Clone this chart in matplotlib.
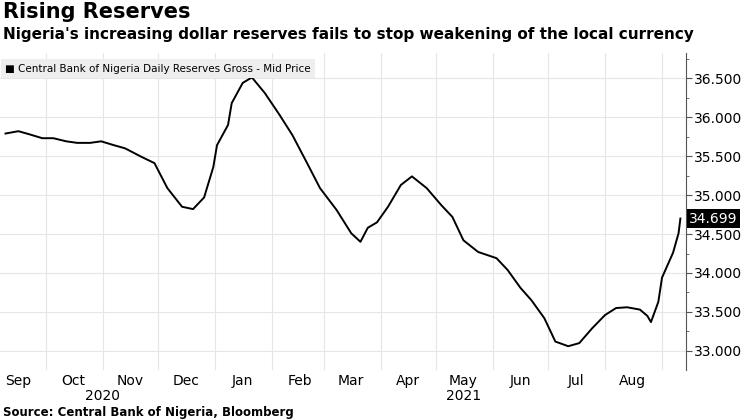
import pandas as pd
import matplotlib.pyplot as plt
import matplotlib.dates as mdates

# Reservas brutas diarias (bilhoes de USD)
dates = ['2020-09-09', '2020-09-16', '2020-09-22', '2020-09-29', '2020-10-05', '2020-10-12',
         '2020-10-18', '2020-10-25', '2020-10-31', '2020-11-07', '2020-11-13', '2020-11-22',
         '2020-11-29', '2020-12-06', '2020-12-14', '2020-12-20', '2020-12-26', '2020-12-31',
         '2021-01-02', '2021-01-08', '2021-01-10', '2021-01-16', '2021-01-21', '2021-01-28',
         '2021-02-05', '2021-02-12', '2021-02-20', '2021-02-27', '2021-03-08', '2021-03-16',
         '2021-03-21', '2021-03-25', '2021-03-30', '2021-04-05', '2021-04-12', '2021-04-18',
         '2021-04-26', '2021-05-04', '2021-05-10', '2021-05-16', '2021-05-24', '2021-06-03',
         '2021-06-09', '2021-06-16', '2021-06-22', '2021-06-29', '2021-07-05', '2021-07-12',
         '2021-07-18', '2021-07-25', '2021-08-01', '2021-08-07', '2021-08-13', '2021-08-20',
         '2021-08-24', '2021-08-26', '2021-08-30', '2021-09-01', '2021-09-07', '2021-09-10',
         '2021-09-11']
reserves = [35.79, 35.82, 35.78, 35.73, 35.73, 35.69,
            35.67, 35.67, 35.69, 35.64, 35.60, 35.49,
            35.41, 35.09, 34.85, 34.82, 34.97, 35.36,
            35.64, 35.90, 36.18, 36.44, 36.51, 36.31,
            36.03, 35.77, 35.41, 35.09, 34.81, 34.51,
            34.40, 34.58, 34.65, 34.85, 35.13, 35.24,
            35.09, 34.87, 34.72, 34.42, 34.27, 34.19,
            34.04, 33.81, 33.65, 33.42, 33.12, 33.06,
            33.10, 33.29, 33.46, 33.55, 33.56, 33.53,
            33.45, 33.37, 33.63, 33.94, 34.26, 34.51,
            34.699]
yticks = [33.0, 33.5, 34.0, 34.5, 35.0, 35.5, 36.0, 36.5]

data = pd.DataFrame({'Data': pd.to_datetime(dates), 'Reservas': reserves})

fig = plt.figure(figsize=(7.48, 4.2), dpi=100)
ax = fig.add_axes([0.0, 0.12, 0.917, 0.755])
ax.plot(data['Data'], data['Reservas'], color='black', linewidth=1.4)

ax.set_xlim(pd.Timestamp('2020-09-06'), pd.Timestamp('2021-09-14'))
ax.set_ylim(32.76, 36.83)

# eixo y a direita
ax.yaxis.tick_right()
ax.set_yticks(yticks)
ax.set_yticklabels([f'{v:.3f}' for v in yticks], fontsize=10)
ax.tick_params(axis='y', direction='out', length=4, color='#555555', pad=2)
ax.yaxis.set_minor_locator(plt.MultipleLocator(0.25))
ax.tick_params(axis='y', which='minor', length=2, color='#555555')

# meses: grade no inicio, rotulo no meio
ax.xaxis.set_major_locator(mdates.MonthLocator())
ax.xaxis.set_major_formatter(plt.NullFormatter())
ax.xaxis.set_minor_locator(mdates.MonthLocator(bymonthday=16))
ax.xaxis.set_minor_formatter(mdates.DateFormatter('%b'))
ax.tick_params(axis='x', which='both', length=0, labelsize=10, pad=3)

ax.grid(True, which='major', color='#e6e6e6', linewidth=0.8)
for s in ['top', 'left', 'bottom']:
    ax.spines[s].set_visible(False)
ax.spines['right'].set_color('#555555')

ax.text(pd.Timestamp('2020-11-01'), -0.06, '2020', transform=ax.get_xaxis_transform(),
        ha='center', va='top', fontsize=10)
ax.text(pd.Timestamp('2021-05-16'), -0.06, '2021', transform=ax.get_xaxis_transform(),
        ha='center', va='top', fontsize=10)

# etiqueta do ultimo valor
ax.text(1.005, 34.699, f'{reserves[-1]:.3f}', transform=ax.get_yaxis_transform(),
        ha='left', va='center', fontsize=10, color='white',
        bbox=dict(boxstyle='square,pad=0.15', facecolor='black', edgecolor='none'))

# legenda
ax.text(0.008, 0.965, '\u25a0 Central Bank of Nigeria Daily Reserves Gross - Mid Price',
        transform=ax.transAxes, ha='left', va='top', fontsize=7.5,
        bbox=dict(boxstyle='square,pad=0.4', facecolor='#eeeeee', edgecolor='none'))

fig.text(0.004, 0.995, 'Rising Reserves', fontsize=15, fontweight='bold', va='top')
fig.text(0.004, 0.935, "Nigeria's increasing dollar reserves fails to stop weakening of the local currency",
         fontsize=11, fontweight='bold', va='top')
fig.text(0.004, 0.003, 'Source: Central Bank of Nigeria, Bloomberg', fontsize=8.5,
         fontweight='bold', va='bottom')

plt.savefig('out.png', dpi=100)
